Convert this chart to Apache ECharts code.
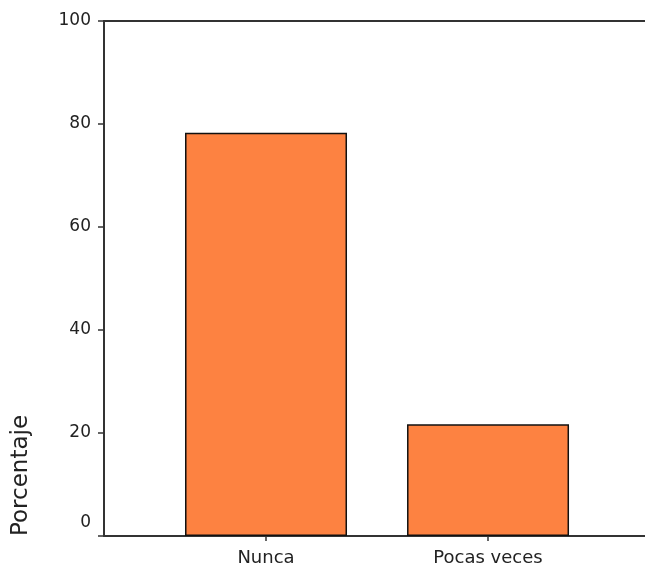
<!DOCTYPE html>
<html>
<head>
<meta charset="utf-8">
<script src="https://cdn.jsdelivr.net/npm/echarts@6/dist/echarts.min.js"></script>
<style>html,body{margin:0;padding:0;background:#fff}#c{width:645px;height:570px}</style>
</head>
<body>
<div id="c"></div>
<script>
const categories = ['Nunca', 'Pocas veces'];
const percentages = [78.3, 21.7];
const yTicks = [0, 20, 40, 60, 80, 100];
const yTitle = 'Porcentaje';

const positions = categories.map((c, i) => i + 1);
const barData = positions.map((p, i) => [p, percentages[i]]);

const chart = echarts.init(document.getElementById('c'), null, {renderer: 'canvas'});
const font = 'DejaVu Sans';
const axisColor = '#333';
chart.setOption({
  animation: false,
  backgroundColor: '#fff',
  grid: {left: 104, right: 0, top: 21, bottom: 34, containLabel: false},
  xAxis: [{
    type: 'value', position: 'bottom',
    min: 0.2703, max: 2.707,
    splitLine: {show: false},
    axisLine: {show: true, lineStyle: {color: axisColor, width: 2}},
    axisTick: {show: true, length: 5, customValues: positions, lineStyle: {color: axisColor, width: 1.5}},
    axisLabel: {show: true, customValues: positions, margin: 13, color: '#222', fontFamily: font, fontSize: 18,
      formatter: v => categories[Math.round(v) - 1] || ''}
  }, {
    type: 'value', position: 'top',
    min: 0.2703, max: 2.707,
    splitLine: {show: false},
    axisLine: {show: true, lineStyle: {color: axisColor, width: 2}},
    axisTick: {show: false}, axisLabel: {show: false}
  }],
  yAxis: {
    type: 'value', min: yTicks[0], max: yTicks[yTicks.length - 1], interval: 20,
    splitLine: {show: false},
    axisLine: {show: true, lineStyle: {color: axisColor, width: 2}},
    axisTick: {show: true, length: 6, lineStyle: {color: axisColor, width: 1.5}},
    axisLabel: {margin: 13, color: '#222', fontFamily: font, fontSize: 17,
      formatter: v => v === yTicks[0] ? '{z|' + v + '}' : String(v),
      rich: {z: {fontFamily: font, fontSize: 17, color: '#222', padding: [0, 0, 26, 0]}}
    }
  },
  graphic: [{
    type: 'text', left: 10, bottom: 34, rotation: Math.PI / 2,
    style: {text: yTitle, fontFamily: font, fontSize: 23, fill: '#222'}
  }],
  series: [{
    type: 'bar', xAxisIndex: 0, data: barData, barWidth: 162,
    itemStyle: {color: '#FD8241', borderColor: '#111', borderWidth: 1.5}
  }]
});
</script>
</body>
</html>
